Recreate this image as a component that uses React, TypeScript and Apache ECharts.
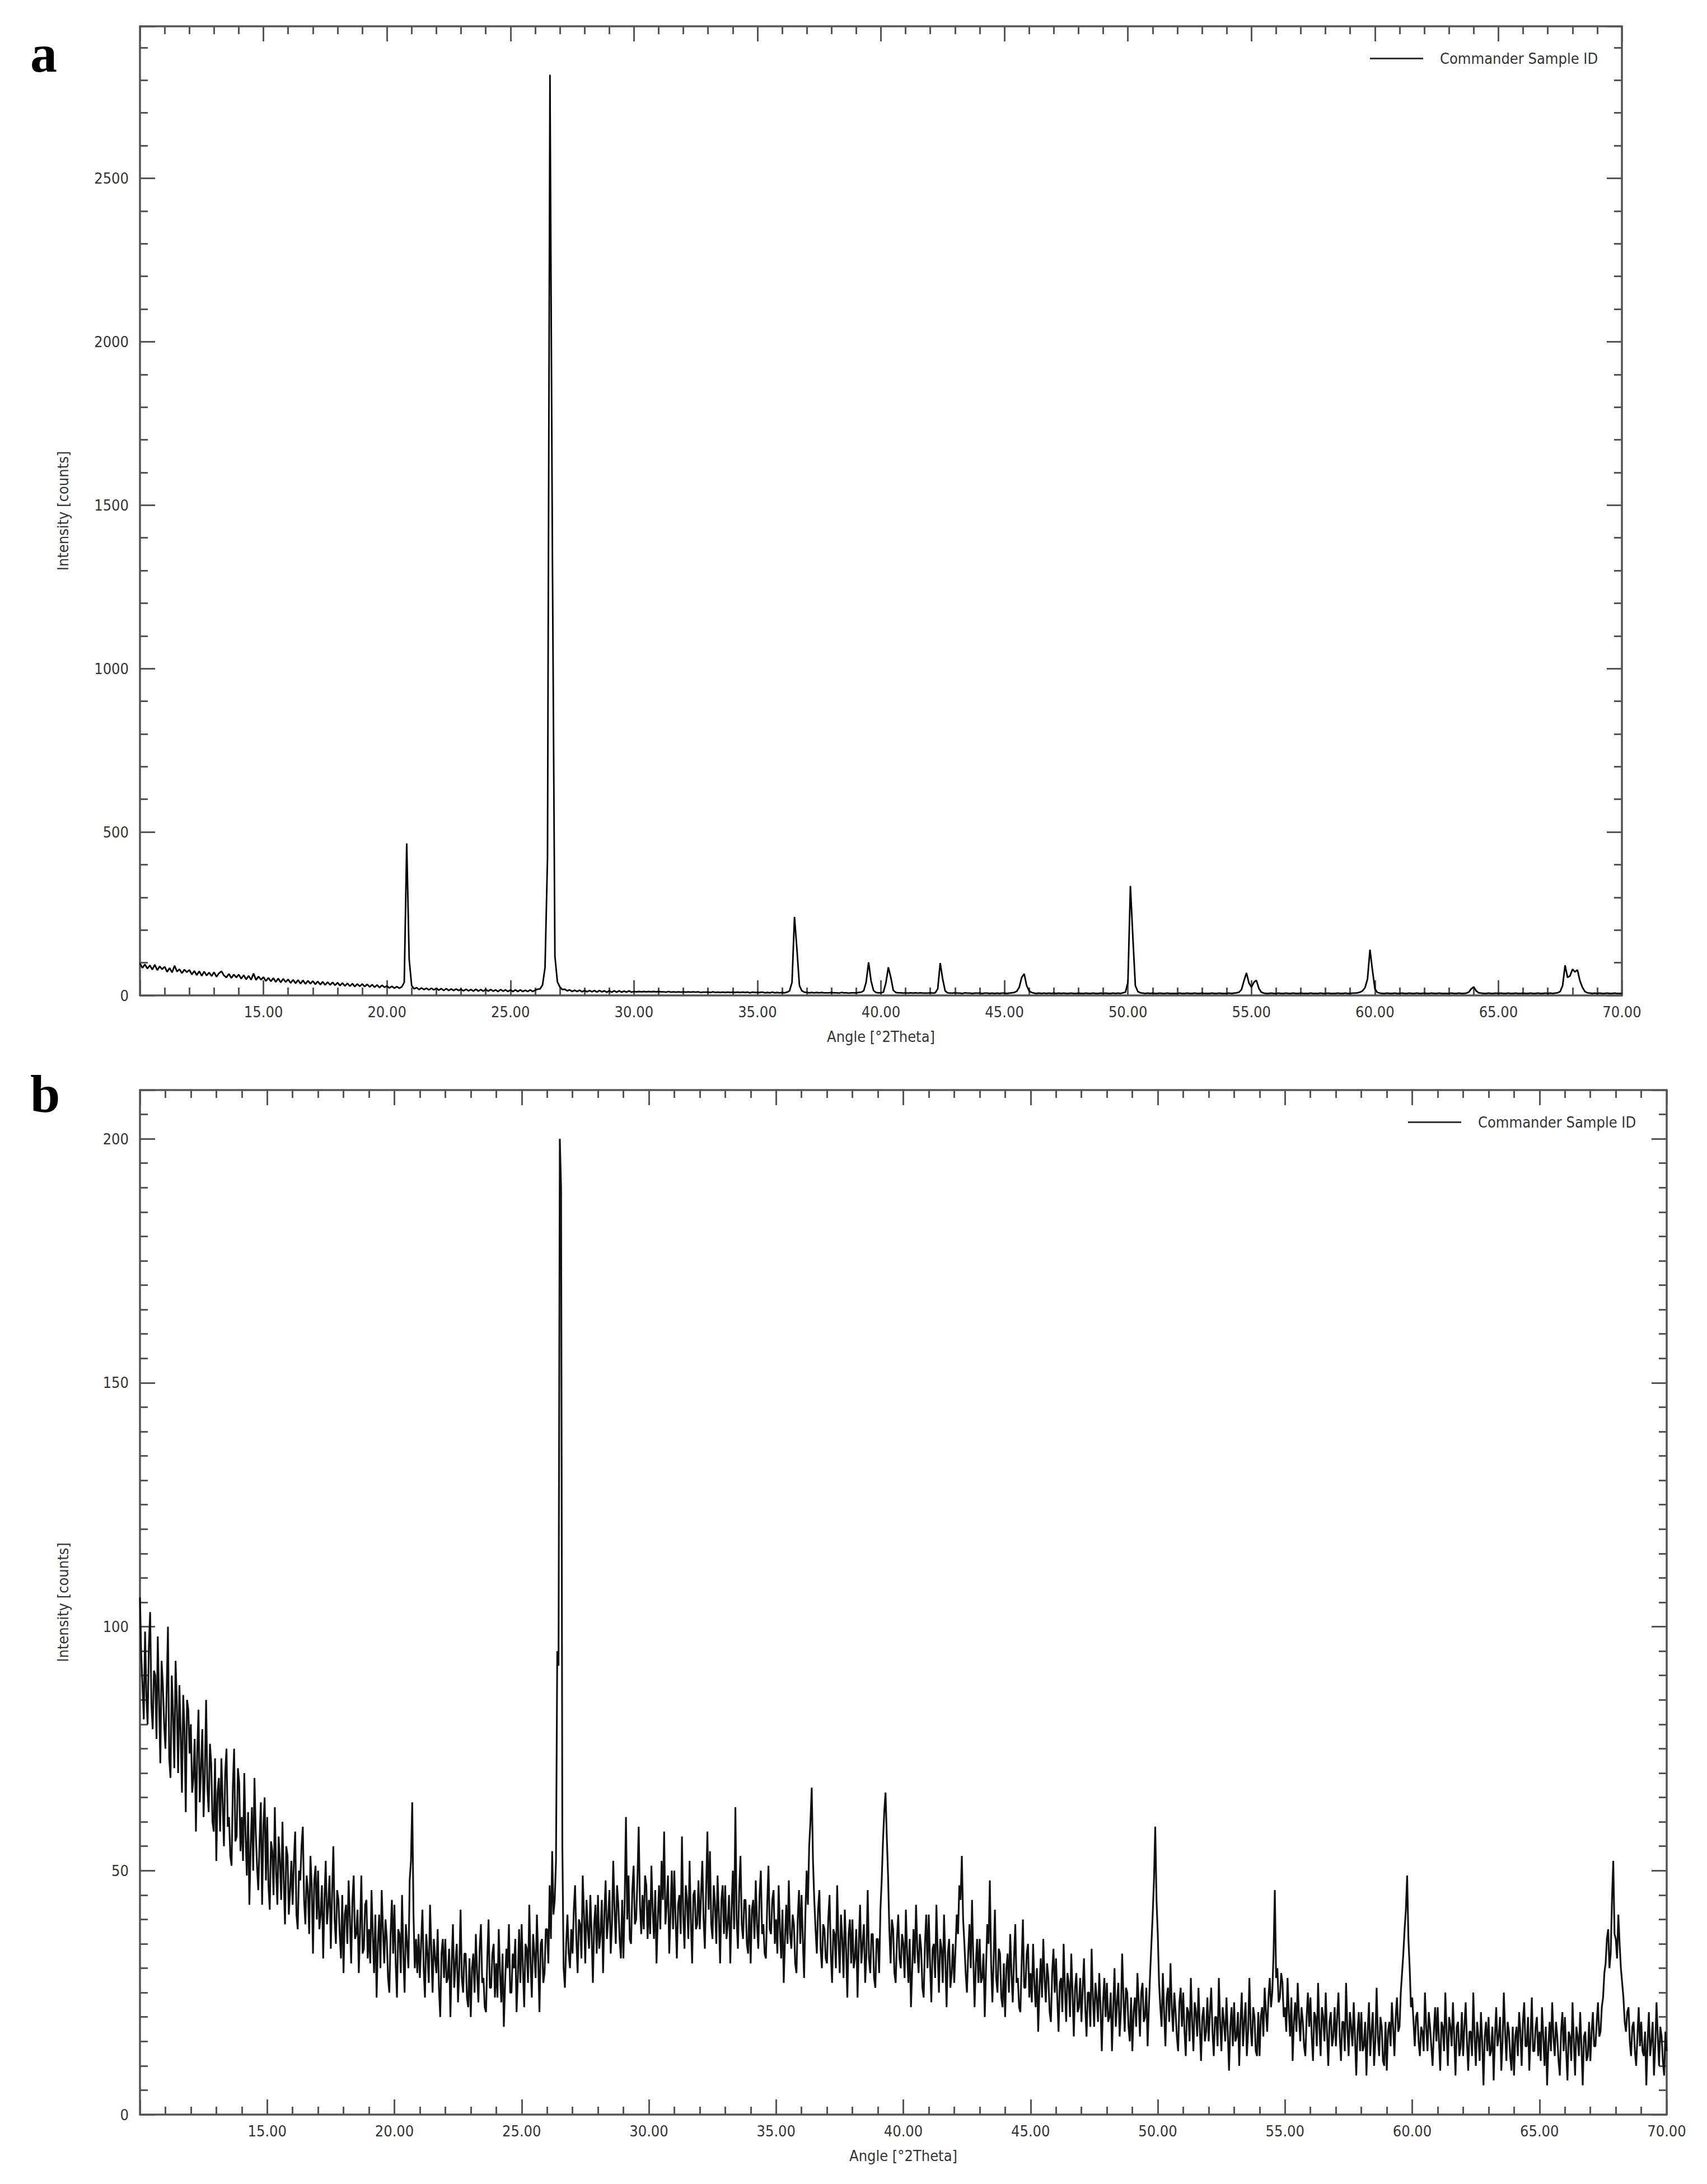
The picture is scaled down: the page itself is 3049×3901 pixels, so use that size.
import React, { useEffect, useRef } from 'react'
import * as echarts from 'echarts'

// scan settings
const ANGLE_START = 10
const STEP_A = 0.1
const STEP_B = 0.05

// pattern a, counts every 0.1 °2Theta
const countsA_10to20 = [
  98, 84, 95, 82, 92, 79, 94, 77, 89, 80,
  88, 72, 84, 70, 91, 73, 80, 68, 79, 71,
  78, 64, 75, 62, 74, 60, 73, 61, 70, 59,
  71, 57, 68, 74, 61, 55, 66, 53, 64, 55,
  64, 51, 62, 49, 60, 48, 67, 47, 58, 48,
  56, 44, 54, 43, 53, 41, 52, 40, 51, 41,
  49, 38, 48, 37, 47, 36, 46, 35, 45, 36,
  44, 34, 43, 33, 42, 32, 41, 32, 40, 31,
  39, 30, 38, 29, 37, 28, 36, 27, 35, 28,
  35, 27, 34, 26, 33, 25, 32, 24, 31, 25,
]
const countsA_20to30 = [
  29, 23, 28, 22, 27, 22, 26, 40, 465, 110,
  30, 20, 24, 18, 23, 18, 22, 17, 22, 17,
  22, 16, 21, 15, 21, 15, 20, 15, 20, 15,
  19, 14, 19, 14, 18, 13, 19, 13, 18, 13,
  18, 13, 18, 13, 17, 12, 18, 13, 17, 12,
  17, 12, 17, 12, 17, 12, 16, 12, 17, 12,
  16, 19, 20, 32, 85, 420, 2817, 1335, 120, 42,
  26, 18, 19, 14, 17, 12, 16, 12, 16, 11,
  15, 11, 15, 11, 15, 10, 15, 11, 14, 10,
  14, 10, 14, 10, 14, 10, 13, 10, 14, 10,
]
const countsA_30to40 = [
  12, 11, 12, 11, 12, 11, 12, 11, 12, 11,
  12, 11, 11, 10, 12, 10, 11, 10, 11, 10,
  11, 10, 11, 10, 11, 10, 11, 9, 10, 10,
  10, 9, 11, 9, 10, 9, 10, 9, 10, 9,
  10, 9, 10, 9, 10, 9, 10, 8, 10, 9,
  9, 9, 10, 8, 9, 8, 10, 8, 9, 8,
  9, 8, 10, 14, 40, 240, 140, 30, 14, 10,
  9, 8, 9, 8, 9, 8, 9, 8, 8, 8,
  9, 8, 8, 7, 9, 8, 8, 7, 8, 8,
  8, 9, 10, 14, 40, 101, 45, 15, 9, 8,
]
const countsA_40to50 = [
  8, 10, 38, 86, 55, 16, 9, 8, 8, 7,
  8, 7, 8, 7, 8, 7, 8, 7, 7, 7,
  8, 7, 8, 20, 99, 50, 14, 8, 7, 7,
  8, 7, 7, 6, 8, 7, 7, 6, 7, 7,
  7, 6, 7, 7, 6, 7, 6, 7, 6, 7,
  7, 6, 7, 8, 9, 13, 25, 55, 66, 30,
  14, 9, 7, 6, 7, 6, 7, 6, 7, 6,
  7, 6, 7, 6, 7, 6, 6, 7, 6, 6,
  7, 6, 6, 7, 6, 6, 7, 6, 6, 7,
  6, 7, 6, 6, 7, 6, 7, 6, 8, 10,
]
const countsA_50to60 = [
  40, 335, 178, 30, 12, 8, 7, 6, 7, 6,
  7, 6, 6, 7, 6, 6, 7, 6, 6, 6,
  6, 7, 6, 6, 7, 6, 6, 7, 6, 6,
  7, 6, 6, 6, 7, 6, 6, 7, 6, 6,
  6, 7, 6, 7, 8, 10, 18, 45, 69, 38,
  25, 40, 46, 22, 10, 7, 6, 6, 7, 6,
  6, 7, 6, 6, 7, 6, 6, 7, 6, 6,
  7, 6, 6, 6, 7, 6, 6, 6, 7, 6,
  6, 7, 6, 6, 6, 7, 6, 6, 7, 6,
  6, 7, 7, 8, 10, 14, 24, 50, 140, 77,
]
const countsA_60to70 = [
  20, 9, 7, 6, 6, 7, 6, 6, 7, 6,
  6, 7, 6, 6, 7, 6, 6, 7, 6, 6,
  7, 6, 6, 7, 6, 6, 7, 6, 6, 6,
  6, 7, 6, 6, 7, 6, 6, 7, 10, 20,
  26, 14, 8, 7, 6, 6, 7, 6, 6, 7,
  6, 7, 6, 6, 7, 6, 6, 7, 6, 6,
  7, 6, 6, 7, 6, 6, 7, 6, 6, 7,
  6, 7, 6, 7, 8, 12, 30, 92, 55, 60,
  80, 72, 78, 45, 25, 12, 8, 7, 6, 7,
  6, 7, 6, 6, 7, 6, 6, 7, 6, 6,
  6,
]

// pattern b, counts every 0.05 °2Theta
const countsB_10to20 = [
  106, 94, 88, 81, 99, 86, 80, 96, 103, 84, 79, 91, 90, 77, 98, 85, 72, 93, 88, 80,
  75, 87, 100, 73, 69, 90, 82, 71, 93, 84, 70, 88, 78, 66, 86, 79, 62, 85, 83, 74,
  80, 66, 69, 77, 58, 74, 83, 64, 71, 79, 61, 70, 85, 67, 62, 76, 72, 60, 58, 73,
  52, 66, 69, 58, 73, 64, 55, 70, 75, 59, 61, 53, 51, 67, 75, 56, 57, 71, 68, 54,
  61, 52, 70, 57, 49, 62, 43, 55, 63, 50, 69, 58, 51, 46, 56, 64, 43, 59, 65, 48,
  61, 47, 42, 56, 54, 45, 63, 50, 43, 57, 52, 44, 60, 48, 39, 55, 53, 41, 46, 52,
  43, 52, 58, 41, 38, 50, 48, 55, 59, 44, 39, 49, 46, 37, 53, 47, 33, 48, 51, 40,
  50, 38, 41, 47, 32, 44, 52, 39, 43, 49, 34, 45, 55, 40, 35, 46, 44, 37, 32, 45,
  29, 41, 43, 35, 48, 40, 31, 44, 49, 36, 37, 42, 29, 38, 49, 33, 34, 43, 44, 32,
  38, 31, 46, 37, 29, 41, 24, 35, 41, 30, 46, 38, 31, 40, 36, 28, 25, 37, 44, 33,
]
const countsB_20to30 = [
  43, 31, 24, 38, 37, 29, 45, 33, 25, 39, 35, 30, 48, 52, 64, 41, 30, 36, 29, 37,
  28, 35, 42, 30, 24, 37, 33, 27, 43, 34, 25, 36, 32, 29, 38, 26, 20, 33, 36, 28,
  36, 27, 28, 34, 20, 31, 39, 26, 31, 35, 23, 30, 42, 28, 25, 33, 33, 24, 22, 32,
  20, 30, 33, 25, 37, 29, 23, 34, 39, 27, 28, 22, 21, 32, 40, 26, 26, 33, 35, 24,
  31, 24, 38, 29, 23, 33, 18, 27, 34, 30, 39, 25, 25, 33, 30, 36, 21, 28, 38, 27,
  39, 30, 22, 35, 34, 27, 43, 31, 24, 37, 33, 28, 41, 32, 21, 35, 36, 27, 29, 38,
  38, 31, 47, 36, 54, 41, 44, 52, 95, 92, 200, 190, 55, 30, 26, 35, 41, 33, 30, 38,
  33, 42, 47, 36, 29, 40, 39, 32, 49, 41, 31, 44, 38, 34, 45, 37, 27, 39, 43, 33,
  45, 34, 37, 44, 29, 41, 48, 36, 40, 46, 33, 39, 52, 42, 35, 47, 43, 36, 32, 44,
  32, 44, 61, 40, 49, 36, 35, 46, 51, 39, 40, 48, 59, 43, 37, 45, 38, 49, 47, 36,
]
const countsB_30to40 = [
  44, 37, 51, 42, 36, 46, 31, 40, 47, 38, 52, 44, 58, 39, 43, 49, 33, 41, 50, 38,
  50, 40, 32, 43, 45, 37, 57, 41, 34, 47, 44, 36, 52, 40, 31, 45, 46, 38, 39, 48,
  38, 45, 52, 40, 34, 46, 58, 42, 54, 39, 36, 47, 43, 35, 49, 41, 31, 44, 47, 37,
  47, 36, 39, 45, 31, 42, 50, 38, 63, 40, 34, 46, 53, 39, 36, 44, 44, 35, 33, 43,
  31, 42, 44, 36, 48, 39, 34, 45, 50, 37, 39, 33, 32, 43, 51, 38, 37, 44, 46, 35,
  40, 33, 47, 38, 32, 42, 27, 36, 43, 35, 48, 37, 34, 41, 39, 31, 29, 40, 46, 35,
  45, 36, 28, 41, 50, 43, 55, 60, 67, 52, 44, 38, 33, 42, 46, 34, 30, 39, 38, 32,
  31, 40, 45, 33, 27, 38, 37, 30, 47, 36, 29, 41, 36, 28, 42, 34, 24, 37, 40, 31,
  40, 30, 32, 38, 24, 35, 43, 31, 35, 39, 27, 33, 46, 32, 29, 37, 37, 28, 26, 36,
  36, 29, 42, 48, 56, 62, 66, 57, 49, 38, 31, 40, 38, 29, 27, 36, 41, 32, 30, 37,
]
const countsB_40to50 = [
  35, 28, 42, 33, 27, 36, 22, 30, 38, 31, 43, 34, 29, 37, 34, 26, 24, 35, 41, 30,
  41, 31, 23, 34, 35, 28, 43, 33, 25, 36, 34, 27, 41, 32, 22, 33, 36, 26, 29, 35,
  27, 34, 41, 37, 47, 44, 53, 40, 35, 29, 25, 33, 39, 30, 44, 32, 22, 31, 36, 27,
  36, 27, 28, 33, 20, 30, 39, 35, 48, 31, 23, 32, 42, 28, 25, 34, 33, 24, 22, 31,
  20, 30, 33, 25, 37, 29, 23, 32, 39, 27, 28, 22, 21, 31, 40, 26, 26, 33, 35, 24,
  29, 23, 35, 27, 22, 30, 17, 26, 32, 24, 36, 28, 23, 31, 28, 21, 19, 29, 34, 25,
  32, 24, 17, 27, 28, 21, 35, 26, 19, 29, 27, 20, 33, 25, 16, 26, 29, 21, 22, 28,
  19, 26, 32, 22, 16, 25, 25, 18, 34, 24, 18, 27, 24, 19, 29, 22, 13, 23, 28, 20,
  27, 19, 20, 25, 13, 22, 30, 18, 23, 27, 16, 21, 33, 24, 17, 26, 25, 18, 15, 24,
  13, 21, 24, 18, 29, 23, 16, 25, 27, 19, 20, 26, 14, 22, 29, 35, 41, 48, 59, 44,
]
const countsB_50to60 = [
  37, 27, 22, 18, 29, 21, 14, 24, 26, 19, 31, 22, 17, 25, 21, 16, 13, 23, 26, 18,
  25, 17, 12, 22, 21, 15, 28, 19, 13, 23, 21, 16, 26, 18, 11, 20, 22, 15, 17, 24,
  15, 21, 26, 17, 12, 20, 20, 14, 28, 19, 13, 22, 19, 15, 24, 17, 9, 18, 22, 14,
  23, 15, 16, 21, 10, 19, 25, 14, 19, 23, 12, 17, 28, 18, 14, 22, 20, 13, 12, 21,
  12, 20, 22, 16, 26, 21, 17, 24, 28, 22, 25, 33, 46, 28, 30, 23, 24, 29, 27, 20,
  22, 17, 28, 21, 16, 24, 11, 19, 23, 17, 27, 20, 15, 22, 19, 14, 12, 20, 25, 18,
  24, 16, 11, 21, 20, 14, 27, 18, 12, 22, 20, 15, 25, 17, 10, 19, 21, 14, 16, 22,
  14, 20, 25, 16, 11, 19, 19, 13, 27, 18, 12, 21, 18, 14, 23, 16, 8, 17, 21, 13,
  21, 13, 14, 19, 8, 17, 23, 12, 17, 21, 10, 15, 26, 16, 12, 20, 18, 11, 10, 19,
  9, 17, 19, 14, 23, 18, 12, 20, 24, 17, 18, 25, 29, 33, 38, 42, 49, 36, 30, 22,
]
const countsB_60to70 = [
  24, 19, 14, 20, 21, 15, 12, 18, 17, 13, 25, 18, 13, 21, 18, 14, 10, 17, 22, 15,
  22, 15, 9, 19, 18, 13, 25, 17, 10, 20, 18, 14, 23, 16, 8, 18, 19, 12, 14, 21,
  12, 18, 23, 15, 9, 17, 17, 12, 25, 16, 10, 19, 16, 11, 21, 15, 6, 16, 19, 13,
  20, 12, 13, 18, 7, 16, 22, 14, 16, 20, 9, 15, 25, 17, 11, 19, 17, 12, 9, 18,
  8, 16, 18, 12, 21, 17, 10, 19, 23, 14, 14, 20, 9, 16, 24, 13, 13, 18, 20, 12,
  17, 11, 22, 16, 10, 18, 6, 14, 19, 13, 23, 16, 12, 19, 16, 11, 8, 17, 21, 13,
  20, 13, 7, 17, 16, 11, 23, 15, 8, 18, 16, 12, 21, 14, 6, 16, 17, 11, 12, 19,
  11, 17, 21, 14, 14, 19, 23, 16, 17, 22, 24, 29, 31, 36, 38, 30, 33, 44, 52, 37,
  36, 32, 41, 35, 30, 27, 24, 19, 17, 21, 22, 15, 12, 18, 19, 13, 10, 16, 22, 14,
  19, 13, 12, 17, 6, 15, 21, 12, 15, 19, 8, 14, 23, 16, 10, 18, 16, 11, 8, 17,
  13,
]

const SAMPLE_NAME = 'Commander Sample ID'
const X_NAME = 'Angle [°2Theta]'
const Y_NAME = 'Intensity [counts]'

const countsA = [
  ...countsA_10to20, ...countsA_20to30, ...countsA_30to40,
  ...countsA_40to50, ...countsA_50to60, ...countsA_60to70,
]
const countsB = [
  ...countsB_10to20, ...countsB_20to30, ...countsB_30to40,
  ...countsB_40to50, ...countsB_50to60, ...countsB_60to70,
]

const toPoints = (counts: number[], step: number) =>
  counts.map((c, i) => [+(ANGLE_START + i * step).toFixed(2), c])

const frameGrey = '#555'
const textGrey = '#333'
const uiFont = '"DejaVu Sans Condensed", "Liberation Sans Narrow", sans-serif'
const panelFont = 'bold 96px "Liberation Serif", serif'

// four framed sides, each with a major and a minor tick axis
function frameAxes(gridIndex: number, yMax: number, yMajor: number, yMinor: number) {
  const tick = (len: number) => ({
    show: true,
    inside: true,
    length: len,
    lineStyle: { color: frameGrey, width: 3 },
  })
  const line = { show: true, onZero: false, lineStyle: { color: frameGrey, width: 3.5 } }
  const noLine = { show: false, onZero: false }
  const xBase = {
    type: 'value',
    gridIndex,
    min: 10,
    max: 70,
    splitLine: { show: false },
    axisLabel: { show: false },
  }
  const yBase = {
    type: 'value',
    gridIndex,
    min: 0,
    max: yMax,
    splitLine: { show: false },
    axisLabel: { show: false },
  }
  const xAxis = [
    {
      ...xBase,
      position: 'bottom',
      interval: 5,
      axisLine: line,
      axisTick: tick(27),
      axisLabel: {
        show: true,
        margin: 16,
        color: textGrey,
        fontSize: 27,
        fontFamily: uiFont,
        formatter: (v: number) => (v === 10 ? '' : v.toFixed(2)),
      },
      name: X_NAME,
      nameLocation: 'middle',
      nameGap: 60,
      nameMoveOverlap: false,
      nameTextStyle: { color: textGrey, fontSize: 27, fontFamily: uiFont },
    },
    { ...xBase, position: 'bottom', interval: 1, axisLine: noLine, axisTick: tick(14) },
    { ...xBase, position: 'top', interval: 5, axisLine: line, axisTick: tick(27) },
    { ...xBase, position: 'top', interval: 1, axisLine: noLine, axisTick: tick(14) },
  ]
  const yAxis = [
    {
      ...yBase,
      position: 'left',
      interval: yMajor,
      axisLine: line,
      axisTick: tick(27),
      axisLabel: {
        show: true,
        margin: 20,
        color: textGrey,
        fontSize: 27,
        fontFamily: uiFont,
        formatter: (v: number) => (v % yMajor === 0 ? String(v) : ''),
      },
      name: Y_NAME,
      nameLocation: 'middle',
      nameGap: 124,
      nameMoveOverlap: false,
      nameTextStyle: { color: textGrey, fontSize: 27, fontFamily: uiFont },
    },
    { ...yBase, position: 'left', interval: yMinor, axisLine: noLine, axisTick: tick(14) },
    { ...yBase, position: 'right', interval: yMajor, axisLine: line, axisTick: tick(27) },
    { ...yBase, position: 'right', interval: yMinor, axisLine: noLine, axisTick: tick(14) },
  ]
  return { xAxis, yAxis }
}

function legendFor(left: number, top: number) {
  return {
    left,
    top,
    data: [SAMPLE_NAME],
    selectedMode: false,
    icon: 'rect',
    itemWidth: 95,
    itemHeight: 3,
    itemStyle: { color: '#333' },
    textStyle: {
      color: textGrey,
      fontSize: 27,
      fontFamily: uiFont,
      padding: [0, 0, 0, 25],
    },
  }
}

export default function App() {
  const chartRef = useRef<HTMLDivElement>(null)

  useEffect(() => {
    const chart = echarts.init(chartRef.current, null, { renderer: 'svg' })

    const frameA = frameAxes(0, 2965, 500, 100)
    const frameB = frameAxes(1, 210, 50, 5)

    const seriesBase = {
      type: 'line',
      name: SAMPLE_NAME,
      symbol: 'none',
      showSymbol: false,
      silent: true,
      itemStyle: { color: '#000' },
    }

    chart.setOption({
      animation: false,
      backgroundColor: '#fff',
      grid: [
        { left: 250, top: 47, width: 2647, height: 1731, outerBoundsMode: 'none' },
        { left: 250, top: 1947, width: 2727, height: 1830, outerBoundsMode: 'none' },
      ],
      xAxis: [...frameA.xAxis, ...frameB.xAxis],
      yAxis: [...frameA.yAxis, ...frameB.yAxis],
      legend: [legendFor(2442, 86), legendFor(2510, 1986)],
      graphic: [
        { type: 'text', left: 54, top: 47, style: { text: 'a', font: panelFont, fill: '#000' } },
        { type: 'text', left: 54, top: 1905, style: { text: 'b', font: panelFont, fill: '#000' } },
      ],
      series: [
        {
          ...seriesBase,
          xAxisIndex: 0,
          yAxisIndex: 0,
          lineStyle: { color: '#000', width: 2.8 },
          data: toPoints(countsA, STEP_A),
        },
        {
          ...seriesBase,
          xAxisIndex: 4,
          yAxisIndex: 4,
          lineStyle: { color: '#111', width: 3.1 },
          data: toPoints(countsB, STEP_B),
        },
      ],
    })

    return () => {
      chart.dispose()
    }
  }, [])

  return (
    <div
      ref={chartRef}
      style={{ position: 'absolute', left: 0, top: 0, width: '3049px', height: '3901px' }}
    />
  )
}
